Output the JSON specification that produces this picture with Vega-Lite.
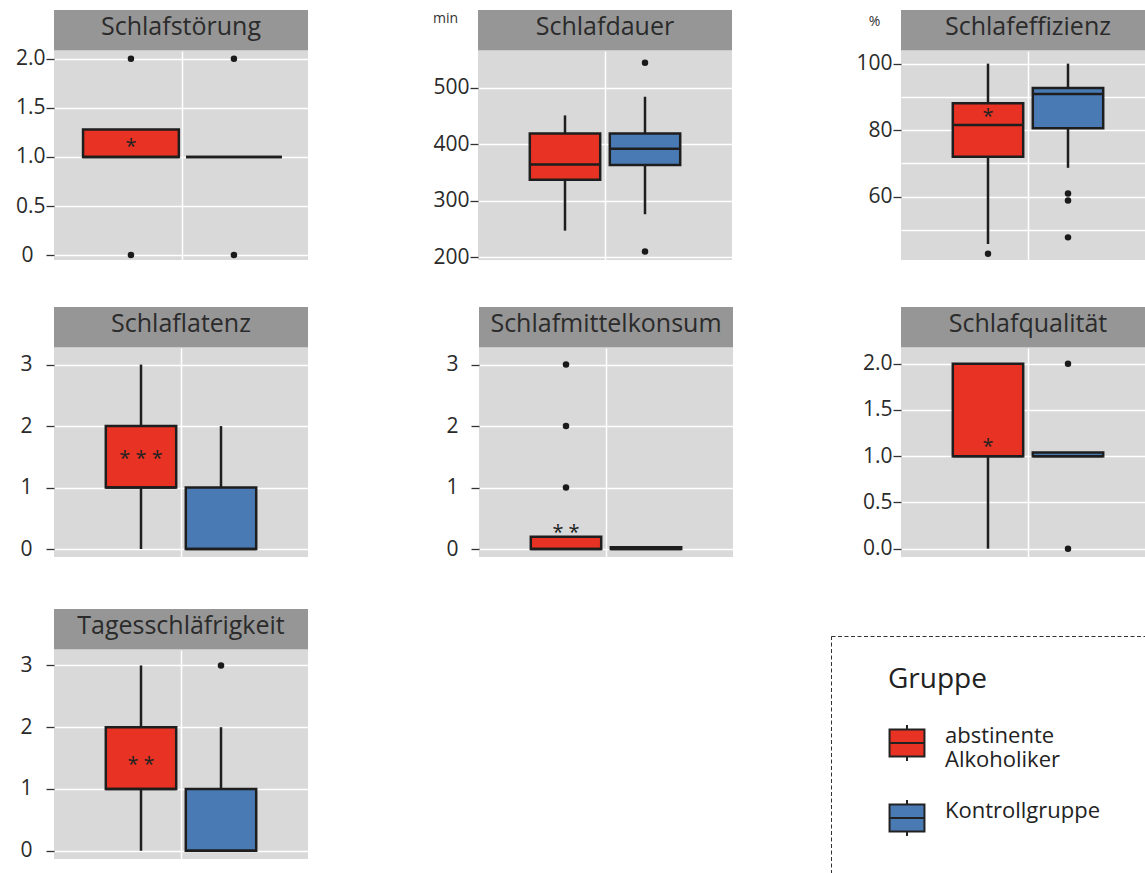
{
  "$schema": "https://vega.github.io/schema/vega-lite/v6.json",
  "padding": {"left": 15, "top": 10, "right": 0, "bottom": 0},
  "datasets": {
    "boxes": [
      {"panel": "Schlafstörung", "group": "abstinente Alkoholiker", "lo": 1, "q1": 1, "med": 1, "q3": 1.28, "hi": 1.28},
      {"panel": "Schlafstörung", "group": "Kontrollgruppe", "lo": 1, "q1": 1, "med": 1, "q3": 1, "hi": 1},
      {"panel": "Schlafdauer", "group": "abstinente Alkoholiker", "lo": 247, "q1": 337, "med": 364, "q3": 419, "hi": 451},
      {"panel": "Schlafdauer", "group": "Kontrollgruppe", "lo": 276, "q1": 363, "med": 392, "q3": 419, "hi": 484},
      {"panel": "Schlafeffizienz", "group": "abstinente Alkoholiker", "lo": 45.8, "q1": 72, "med": 81.6, "q3": 88.1, "hi": 100},
      {"panel": "Schlafeffizienz", "group": "Kontrollgruppe", "lo": 68.7, "q1": 80.6, "med": 90.9, "q3": 92.7, "hi": 100},
      {"panel": "Schlaflatenz", "group": "abstinente Alkoholiker", "lo": 0, "q1": 1, "med": 1, "q3": 2, "hi": 3},
      {"panel": "Schlaflatenz", "group": "Kontrollgruppe", "lo": 0, "q1": 0, "med": 0, "q3": 1, "hi": 2},
      {"panel": "Schlafmittelkonsum", "group": "abstinente Alkoholiker", "lo": 0, "q1": 0, "med": 0, "q3": 0.2, "hi": 0.2},
      {"panel": "Schlafmittelkonsum", "group": "Kontrollgruppe", "lo": 0, "q1": 0, "med": 0, "q3": 0.03, "hi": 0.03},
      {"panel": "Schlafqualität", "group": "abstinente Alkoholiker", "lo": 0, "q1": 1, "med": 1, "q3": 2, "hi": 2},
      {"panel": "Schlafqualität", "group": "Kontrollgruppe", "lo": 1, "q1": 1, "med": 1, "q3": 1.04, "hi": 1.04},
      {"panel": "Tagesschläfrigkeit", "group": "abstinente Alkoholiker", "lo": 0, "q1": 1, "med": 1, "q3": 2, "hi": 3},
      {"panel": "Tagesschläfrigkeit", "group": "Kontrollgruppe", "lo": 0, "q1": 0, "med": 0, "q3": 1, "hi": 2}
    ],
    "outliers": [
      {"panel": "Schlafstörung", "group": "abstinente Alkoholiker", "value": 2},
      {"panel": "Schlafstörung", "group": "abstinente Alkoholiker", "value": 0},
      {"panel": "Schlafstörung", "group": "Kontrollgruppe", "value": 2},
      {"panel": "Schlafstörung", "group": "Kontrollgruppe", "value": 0},
      {"panel": "Schlafdauer", "group": "Kontrollgruppe", "value": 544},
      {"panel": "Schlafdauer", "group": "Kontrollgruppe", "value": 210},
      {"panel": "Schlafeffizienz", "group": "abstinente Alkoholiker", "value": 42.9},
      {"panel": "Schlafeffizienz", "group": "Kontrollgruppe", "value": 61},
      {"panel": "Schlafeffizienz", "group": "Kontrollgruppe", "value": 58.9},
      {"panel": "Schlafeffizienz", "group": "Kontrollgruppe", "value": 47.8},
      {"panel": "Schlafmittelkonsum", "group": "abstinente Alkoholiker", "value": 1},
      {"panel": "Schlafmittelkonsum", "group": "abstinente Alkoholiker", "value": 2},
      {"panel": "Schlafmittelkonsum", "group": "abstinente Alkoholiker", "value": 3},
      {"panel": "Schlafqualität", "group": "Kontrollgruppe", "value": 2},
      {"panel": "Schlafqualität", "group": "Kontrollgruppe", "value": 0},
      {"panel": "Tagesschläfrigkeit", "group": "Kontrollgruppe", "value": 3}
    ],
    "stars": [
      {"panel": "Schlafstörung", "group": "abstinente Alkoholiker", "label": "*", "value": 1.13},
      {"panel": "Schlafeffizienz", "group": "abstinente Alkoholiker", "label": "*", "value": 84.9},
      {"panel": "Schlaflatenz", "group": "abstinente Alkoholiker", "label": "* * *", "value": 1.52},
      {"panel": "Schlafmittelkonsum", "group": "abstinente Alkoholiker", "label": "* *", "value": 0.31},
      {"panel": "Schlafqualität", "group": "abstinente Alkoholiker", "label": "*", "value": 1.13},
      {"panel": "Tagesschläfrigkeit", "group": "abstinente Alkoholiker", "label": "* *", "value": 1.43}
    ]
  },
  "spacing": 39,
  "vconcat": [
    {
      "spacing": 124,
      "hconcat": [
        {
          "bounds": "flush", "spacing": 0,
          "vconcat": [
            {"width": 254, "height": 40.5, "view": {"fill": "#969696", "stroke": null}, "data": {"values": [{"name": "Schlafstörung"}]}, "mark": {"type": "text", "fontSize": 25, "color": "#2b2b2b", "dy": -3.5}, "encoding": {"text": {"field": "name", "type": "nominal"}}},
            {
              "width": 254, "height": 209, "view": {"fill": "#d9d9d9", "stroke": null},
              "encoding": {"x": {"field": "group", "type": "nominal", "scale": {"domain": ["abstinente Alkoholiker", "Kontrollgruppe"], "paddingInner": 0, "paddingOuter": 0.233, "align": 0.53}, "axis": {"values": ["Kontrollgruppe"], "bandPosition": 0, "grid": true, "labels": false, "ticks": false, "domain": false, "title": null}}},
              "layer": [
                {"data": {"name": "boxes"}, "transform": [{"filter": "datum.panel === 'Schlafstörung'"}], "layer": [
                  {"mark": {"type": "rule", "color": "#1e1e1e", "strokeWidth": 2.5}, "encoding": {"y": {"field": "lo", "type": "quantitative", "title": null, "scale": {"domain": [-0.05, 2.08], "nice": false, "zero": false}, "axis": {"values": [0, 0.25, 0.5, 0.75, 1, 1.25, 1.5, 1.75, 2], "labelExpr": "abs(datum.value*2 - round(datum.value*2)) < 0.001 ? (datum.value == 0 ? '0' : format(datum.value, '.1f')) : ''", "tickOpacity": {"condition": {"test": "abs(datum.value*2 - round(datum.value*2)) < 0.001", "value": 1}, "value": 0}, "labelPadding": {"condition": {"test": "datum.value == 0", "value": 13}, "value": 1}}}, "y2": {"field": "hi"}}},
                  {"mark": {"type": "bar", "stroke": "#1e1e1e", "strokeWidth": 2.5, "width": {"band": 0.93}}, "encoding": {"y": {"field": "q1", "type": "quantitative", "title": null}, "y2": {"field": "q3"}, "color": {"field": "group", "type": "nominal", "title": "Gruppe", "scale": {"domain": ["abstinente Alkoholiker", "Kontrollgruppe"], "range": ["#e83223", "#4a7ab4"]}, "legend": {"orient": "none", "legendX": 834, "legendY": 656, "titleFontSize": 28, "titleFontWeight": "normal", "titleColor": "#222", "titlePadding": 30, "labelFontSize": 22, "labelColor": "#222", "labelOffset": 19, "labelLimit": 300, "labelBaseline": "alphabetic", "labelExpr": "datum.label == 'abstinente Alkoholiker' ? ['abstinente', 'Alkoholiker'] : datum.label", "symbolType": "M-0.97,-0.75H0.97V0.75H-0.97Z M-0.97,0H0.97 M0,-0.75V-1 M0,0.75V1", "symbolSize": 1296, "symbolStrokeWidth": 2, "symbolStrokeColor": "#222", "rowPadding": 25}}}},
                  {"mark": {"type": "bar", "fill": "transparent", "stroke": "#1e1e1e", "strokeWidth": 2.5, "width": {"band": 0.93}}, "encoding": {"y": {"field": "med", "type": "quantitative", "title": null}, "y2": {"field": "med"}}}
                ]},
                {"data": {"name": "outliers"}, "transform": [{"filter": "datum.panel === 'Schlafstörung'"}], "mark": {"type": "point", "filled": true, "size": 42, "color": "#1a1a1a", "opacity": 1}, "encoding": {"y": {"field": "value", "type": "quantitative", "title": null}}},
                {"data": {"name": "stars"}, "transform": [{"filter": "datum.panel === 'Schlafstörung'"}], "mark": {"type": "text", "fontSize": 20, "baseline": "alphabetic", "dy": 9, "color": "#222"}, "encoding": {"y": {"field": "value", "type": "quantitative", "title": null}, "text": {"field": "label", "type": "nominal"}}}
              ]
            }
          ]
        },
        {
          "spacing": 123,
          "hconcat": [
            {
              "bounds": "flush", "spacing": 0,
              "vconcat": [
                {"width": 254, "height": 40.5, "view": {"fill": "#969696", "stroke": null}, "data": {"values": [{"name": "Schlafdauer"}]}, "mark": {"type": "text", "fontSize": 25, "color": "#2b2b2b", "dy": -3.5}, "encoding": {"text": {"field": "name", "type": "nominal"}}},
                {
                  "width": 254, "height": 209, "view": {"fill": "#d9d9d9", "stroke": null},
                  "encoding": {"x": {"field": "group", "type": "nominal", "scale": {"domain": ["abstinente Alkoholiker", "Kontrollgruppe"], "paddingInner": 0, "paddingOuter": 0.5875}, "axis": {"values": ["Kontrollgruppe"], "bandPosition": 0, "grid": true, "labels": false, "ticks": false, "domain": false, "title": null}}},
                  "layer": [
                    {"data": {"name": "boxes"}, "transform": [{"filter": "datum.panel === 'Schlafdauer'"}], "layer": [
                      {"mark": {"type": "rule", "color": "#1e1e1e", "strokeWidth": 2.5}, "encoding": {"y": {"field": "lo", "type": "quantitative", "title": "min", "scale": {"domain": [195, 565], "nice": false, "zero": false}, "axis": {"values": [200, 250, 300, 350, 400, 450, 500, 550], "labelExpr": "datum.value % 100 == 0 ? format(datum.value, 'd') : ''", "tickOpacity": {"condition": {"test": "datum.value % 100 == 0", "value": 1}, "value": 0}, "titleX": -33, "titleY": -32.5}}, "y2": {"field": "hi"}}},
                      {"mark": {"type": "bar", "stroke": "#1e1e1e", "strokeWidth": 2.5, "width": {"band": 0.88}}, "encoding": {"y": {"field": "q1", "type": "quantitative", "title": "min"}, "y2": {"field": "q3"}, "color": {"field": "group", "type": "nominal", "title": "Gruppe", "scale": {"domain": ["abstinente Alkoholiker", "Kontrollgruppe"], "range": ["#e83223", "#4a7ab4"]}, "legend": {"orient": "none", "legendX": 834, "legendY": 656, "titleFontSize": 28, "titleFontWeight": "normal", "titleColor": "#222", "titlePadding": 30, "labelFontSize": 22, "labelColor": "#222", "labelOffset": 19, "labelLimit": 300, "labelBaseline": "alphabetic", "labelExpr": "datum.label == 'abstinente Alkoholiker' ? ['abstinente', 'Alkoholiker'] : datum.label", "symbolType": "M-0.97,-0.75H0.97V0.75H-0.97Z M-0.97,0H0.97 M0,-0.75V-1 M0,0.75V1", "symbolSize": 1296, "symbolStrokeWidth": 2, "symbolStrokeColor": "#222", "rowPadding": 25}}}},
                      {"mark": {"type": "bar", "fill": "transparent", "stroke": "#1e1e1e", "strokeWidth": 2.5, "width": {"band": 0.88}}, "encoding": {"y": {"field": "med", "type": "quantitative", "title": "min"}, "y2": {"field": "med"}}}
                    ]},
                    {"data": {"name": "outliers"}, "transform": [{"filter": "datum.panel === 'Schlafdauer'"}], "mark": {"type": "point", "filled": true, "size": 42, "color": "#1a1a1a", "opacity": 1}, "encoding": {"y": {"field": "value", "type": "quantitative", "title": "min"}}}
                  ]
                }
              ]
            },
            {
              "bounds": "flush", "spacing": 0,
              "vconcat": [
                {"width": 254, "height": 40.5, "view": {"fill": "#969696", "stroke": null}, "data": {"values": [{"name": "Schlafeffizienz"}]}, "mark": {"type": "text", "fontSize": 25, "color": "#2b2b2b", "dy": -3.5}, "encoding": {"text": {"field": "name", "type": "nominal"}}},
                {
                  "width": 254, "height": 209, "view": {"fill": "#d9d9d9", "stroke": null},
                  "encoding": {"x": {"field": "group", "type": "nominal", "scale": {"domain": ["abstinente Alkoholiker", "Kontrollgruppe"], "paddingInner": 0, "paddingOuter": 0.5875}, "axis": {"values": ["Kontrollgruppe"], "bandPosition": 0, "grid": true, "labels": false, "ticks": false, "domain": false, "title": null}}},
                  "layer": [
                    {"data": {"name": "boxes"}, "transform": [{"filter": "datum.panel === 'Schlafeffizienz'"}], "layer": [
                      {"mark": {"type": "rule", "color": "#1e1e1e", "strokeWidth": 2.5}, "encoding": {"y": {"field": "lo", "type": "quantitative", "title": "%", "scale": {"domain": [41, 103.8], "nice": false, "zero": false}, "axis": {"values": [50, 60, 70, 80, 90, 100], "labelExpr": "datum.value % 20 == 0 ? format(datum.value, 'd') : ''", "tickOpacity": {"condition": {"test": "datum.value % 20 == 0", "value": 1}, "value": 0}, "titleX": -27, "titleY": -30}}, "y2": {"field": "hi"}}},
                      {"mark": {"type": "bar", "stroke": "#1e1e1e", "strokeWidth": 2.5, "width": {"band": 0.88}}, "encoding": {"y": {"field": "q1", "type": "quantitative", "title": "%"}, "y2": {"field": "q3"}, "color": {"field": "group", "type": "nominal", "title": "Gruppe", "scale": {"domain": ["abstinente Alkoholiker", "Kontrollgruppe"], "range": ["#e83223", "#4a7ab4"]}, "legend": {"orient": "none", "legendX": 834, "legendY": 656, "titleFontSize": 28, "titleFontWeight": "normal", "titleColor": "#222", "titlePadding": 30, "labelFontSize": 22, "labelColor": "#222", "labelOffset": 19, "labelLimit": 300, "labelBaseline": "alphabetic", "labelExpr": "datum.label == 'abstinente Alkoholiker' ? ['abstinente', 'Alkoholiker'] : datum.label", "symbolType": "M-0.97,-0.75H0.97V0.75H-0.97Z M-0.97,0H0.97 M0,-0.75V-1 M0,0.75V1", "symbolSize": 1296, "symbolStrokeWidth": 2, "symbolStrokeColor": "#222", "rowPadding": 25}}}},
                      {"mark": {"type": "bar", "fill": "transparent", "stroke": "#1e1e1e", "strokeWidth": 2.5, "width": {"band": 0.88}}, "encoding": {"y": {"field": "med", "type": "quantitative", "title": "%"}, "y2": {"field": "med"}}}
                    ]},
                    {"data": {"name": "outliers"}, "transform": [{"filter": "datum.panel === 'Schlafeffizienz'"}], "mark": {"type": "point", "filled": true, "size": 42, "color": "#1a1a1a", "opacity": 1}, "encoding": {"y": {"field": "value", "type": "quantitative", "title": "%"}}},
                    {"data": {"name": "stars"}, "transform": [{"filter": "datum.panel === 'Schlafeffizienz'"}], "mark": {"type": "text", "fontSize": 20, "baseline": "alphabetic", "dy": 9, "color": "#222"}, "encoding": {"y": {"field": "value", "type": "quantitative", "title": "%"}, "text": {"field": "label", "type": "nominal"}}}
                  ]
                }
              ]
            }
          ]
        }
      ]
    },
    {
      "spacing": 46,
      "vconcat": [
        {
          "spacing": 137,
          "hconcat": [
            {
              "bounds": "flush", "spacing": 0,
              "vconcat": [
                {"width": 254, "height": 40.5, "view": {"fill": "#969696", "stroke": null}, "data": {"values": [{"name": "Schlaflatenz"}]}, "mark": {"type": "text", "fontSize": 25, "color": "#2b2b2b", "dy": -3}, "encoding": {"text": {"field": "name", "type": "nominal"}}},
                {
                  "width": 254, "height": 209, "view": {"fill": "#d9d9d9", "stroke": null},
                  "encoding": {"x": {"field": "group", "type": "nominal", "scale": {"domain": ["abstinente Alkoholiker", "Kontrollgruppe"], "paddingInner": 0, "paddingOuter": 0.5875}, "axis": {"values": ["Kontrollgruppe"], "bandPosition": 0, "grid": true, "labels": false, "ticks": false, "domain": false, "title": null}}},
                  "layer": [
                    {"data": {"name": "boxes"}, "transform": [{"filter": "datum.panel === 'Schlaflatenz'"}], "layer": [
                      {"mark": {"type": "rule", "color": "#1e1e1e", "strokeWidth": 2.5}, "encoding": {"y": {"field": "lo", "type": "quantitative", "title": null, "scale": {"domain": [-0.13, 3.27], "nice": false, "zero": false}, "axis": {"values": [0, 0.5, 1, 1.5, 2, 2.5, 3], "labelExpr": "datum.value % 1 == 0 ? format(datum.value, 'd') : ''", "tickOpacity": {"condition": {"test": "datum.value % 1 == 0", "value": 1}, "value": 0}, "labelPadding": 14}}, "y2": {"field": "hi"}}},
                      {"mark": {"type": "bar", "stroke": "#1e1e1e", "strokeWidth": 2.5, "width": {"band": 0.88}}, "encoding": {"y": {"field": "q1", "type": "quantitative", "title": null}, "y2": {"field": "q3"}, "color": {"field": "group", "type": "nominal", "title": "Gruppe", "scale": {"domain": ["abstinente Alkoholiker", "Kontrollgruppe"], "range": ["#e83223", "#4a7ab4"]}, "legend": {"orient": "none", "legendX": 834, "legendY": 656, "titleFontSize": 28, "titleFontWeight": "normal", "titleColor": "#222", "titlePadding": 30, "labelFontSize": 22, "labelColor": "#222", "labelOffset": 19, "labelLimit": 300, "labelBaseline": "alphabetic", "labelExpr": "datum.label == 'abstinente Alkoholiker' ? ['abstinente', 'Alkoholiker'] : datum.label", "symbolType": "M-0.97,-0.75H0.97V0.75H-0.97Z M-0.97,0H0.97 M0,-0.75V-1 M0,0.75V1", "symbolSize": 1296, "symbolStrokeWidth": 2, "symbolStrokeColor": "#222", "rowPadding": 25}}}},
                      {"mark": {"type": "bar", "fill": "transparent", "stroke": "#1e1e1e", "strokeWidth": 2.5, "width": {"band": 0.88}}, "encoding": {"y": {"field": "med", "type": "quantitative", "title": null}, "y2": {"field": "med"}}}
                    ]},
                    {"data": {"name": "stars"}, "transform": [{"filter": "datum.panel === 'Schlaflatenz'"}], "mark": {"type": "text", "fontSize": 20, "baseline": "alphabetic", "dy": 9, "color": "#222"}, "encoding": {"y": {"field": "value", "type": "quantitative", "title": null}, "text": {"field": "label", "type": "nominal"}}}
                  ]
                }
              ]
            },
            {
              "spacing": 129,
              "hconcat": [
                {
                  "bounds": "flush", "spacing": 0,
                  "vconcat": [
                    {"width": 254, "height": 40.5, "view": {"fill": "#969696", "stroke": null}, "data": {"values": [{"name": "Schlafmittelkonsum"}]}, "mark": {"type": "text", "fontSize": 25, "color": "#2b2b2b", "dy": -3}, "encoding": {"text": {"field": "name", "type": "nominal"}}},
                    {
                      "width": 254, "height": 209, "view": {"fill": "#d9d9d9", "stroke": null},
                      "encoding": {"x": {"field": "group", "type": "nominal", "scale": {"domain": ["abstinente Alkoholiker", "Kontrollgruppe"], "paddingInner": 0, "paddingOuter": 0.5875}, "axis": {"values": ["Kontrollgruppe"], "bandPosition": 0, "grid": true, "labels": false, "ticks": false, "domain": false, "title": null}}},
                      "layer": [
                        {"data": {"name": "boxes"}, "transform": [{"filter": "datum.panel === 'Schlafmittelkonsum'"}], "layer": [
                          {"mark": {"type": "rule", "color": "#1e1e1e", "strokeWidth": 2.5}, "encoding": {"y": {"field": "lo", "type": "quantitative", "title": null, "scale": {"domain": [-0.13, 3.27], "nice": false, "zero": false}, "axis": {"values": [0, 0.5, 1, 1.5, 2, 2.5, 3], "labelExpr": "datum.value % 1 == 0 ? format(datum.value, 'd') : ''", "tickOpacity": {"condition": {"test": "datum.value % 1 == 0", "value": 1}, "value": 0}, "labelPadding": 13}}, "y2": {"field": "hi"}}},
                          {"mark": {"type": "bar", "stroke": "#1e1e1e", "strokeWidth": 2.5, "width": {"band": 0.88}}, "encoding": {"y": {"field": "q1", "type": "quantitative", "title": null}, "y2": {"field": "q3"}, "color": {"field": "group", "type": "nominal", "title": "Gruppe", "scale": {"domain": ["abstinente Alkoholiker", "Kontrollgruppe"], "range": ["#e83223", "#4a7ab4"]}, "legend": {"orient": "none", "legendX": 834, "legendY": 656, "titleFontSize": 28, "titleFontWeight": "normal", "titleColor": "#222", "titlePadding": 30, "labelFontSize": 22, "labelColor": "#222", "labelOffset": 19, "labelLimit": 300, "labelBaseline": "alphabetic", "labelExpr": "datum.label == 'abstinente Alkoholiker' ? ['abstinente', 'Alkoholiker'] : datum.label", "symbolType": "M-0.97,-0.75H0.97V0.75H-0.97Z M-0.97,0H0.97 M0,-0.75V-1 M0,0.75V1", "symbolSize": 1296, "symbolStrokeWidth": 2, "symbolStrokeColor": "#222", "rowPadding": 25}}}},
                          {"mark": {"type": "bar", "fill": "transparent", "stroke": "#1e1e1e", "strokeWidth": 2.5, "width": {"band": 0.88}}, "encoding": {"y": {"field": "med", "type": "quantitative", "title": null}, "y2": {"field": "med"}}}
                        ]},
                        {"data": {"name": "outliers"}, "transform": [{"filter": "datum.panel === 'Schlafmittelkonsum'"}], "mark": {"type": "point", "filled": true, "size": 42, "color": "#1a1a1a", "opacity": 1}, "encoding": {"y": {"field": "value", "type": "quantitative", "title": null}}},
                        {"data": {"name": "stars"}, "transform": [{"filter": "datum.panel === 'Schlafmittelkonsum'"}], "mark": {"type": "text", "fontSize": 20, "baseline": "alphabetic", "dy": 9, "color": "#222"}, "encoding": {"y": {"field": "value", "type": "quantitative", "title": null}, "text": {"field": "label", "type": "nominal"}}}
                      ]
                    }
                  ]
                },
                {
                  "bounds": "flush", "spacing": 0,
                  "vconcat": [
                    {"width": 254, "height": 40.5, "view": {"fill": "#969696", "stroke": null}, "data": {"values": [{"name": "Schlafqualität"}]}, "mark": {"type": "text", "fontSize": 25, "color": "#2b2b2b", "dy": -3}, "encoding": {"text": {"field": "name", "type": "nominal"}}},
                    {
                      "width": 254, "height": 209, "view": {"fill": "#d9d9d9", "stroke": null},
                      "encoding": {"x": {"field": "group", "type": "nominal", "scale": {"domain": ["abstinente Alkoholiker", "Kontrollgruppe"], "paddingInner": 0, "paddingOuter": 0.5875}, "axis": {"values": ["Kontrollgruppe"], "bandPosition": 0, "grid": true, "labels": false, "ticks": false, "domain": false, "title": null}}},
                      "layer": [
                        {"data": {"name": "boxes"}, "transform": [{"filter": "datum.panel === 'Schlafqualität'"}], "layer": [
                          {"mark": {"type": "rule", "color": "#1e1e1e", "strokeWidth": 2.5}, "encoding": {"y": {"field": "lo", "type": "quantitative", "title": null, "scale": {"domain": [-0.09, 2.17], "nice": false, "zero": false}, "axis": {"values": [0, 0.25, 0.5, 0.75, 1, 1.25, 1.5, 1.75, 2], "labelExpr": "abs(datum.value*2 - round(datum.value*2)) < 0.001 ? format(datum.value, '.1f') : ''", "tickOpacity": {"condition": {"test": "abs(datum.value*2 - round(datum.value*2)) < 0.001", "value": 1}, "value": 0}}}, "y2": {"field": "hi"}}},
                          {"mark": {"type": "bar", "stroke": "#1e1e1e", "strokeWidth": 2.5, "width": {"band": 0.88}}, "encoding": {"y": {"field": "q1", "type": "quantitative", "title": null}, "y2": {"field": "q3"}, "color": {"field": "group", "type": "nominal", "title": "Gruppe", "scale": {"domain": ["abstinente Alkoholiker", "Kontrollgruppe"], "range": ["#e83223", "#4a7ab4"]}, "legend": {"orient": "none", "legendX": 834, "legendY": 656, "titleFontSize": 28, "titleFontWeight": "normal", "titleColor": "#222", "titlePadding": 30, "labelFontSize": 22, "labelColor": "#222", "labelOffset": 19, "labelLimit": 300, "labelBaseline": "alphabetic", "labelExpr": "datum.label == 'abstinente Alkoholiker' ? ['abstinente', 'Alkoholiker'] : datum.label", "symbolType": "M-0.97,-0.75H0.97V0.75H-0.97Z M-0.97,0H0.97 M0,-0.75V-1 M0,0.75V1", "symbolSize": 1296, "symbolStrokeWidth": 2, "symbolStrokeColor": "#222", "rowPadding": 25}}}},
                          {"mark": {"type": "bar", "fill": "transparent", "stroke": "#1e1e1e", "strokeWidth": 2.5, "width": {"band": 0.88}}, "encoding": {"y": {"field": "med", "type": "quantitative", "title": null}, "y2": {"field": "med"}}}
                        ]},
                        {"data": {"name": "outliers"}, "transform": [{"filter": "datum.panel === 'Schlafqualität'"}], "mark": {"type": "point", "filled": true, "size": 42, "color": "#1a1a1a", "opacity": 1}, "encoding": {"y": {"field": "value", "type": "quantitative", "title": null}}},
                        {"data": {"name": "stars"}, "transform": [{"filter": "datum.panel === 'Schlafqualität'"}], "mark": {"type": "text", "fontSize": 20, "baseline": "alphabetic", "dy": 9, "color": "#222"}, "encoding": {"y": {"field": "value", "type": "quantitative", "title": null}, "text": {"field": "label", "type": "nominal"}}}
                      ]
                    }
                  ]
                }
              ]
            }
          ]
        },
        {
          "spacing": 522,
          "hconcat": [
            {
              "bounds": "flush", "spacing": 0,
              "vconcat": [
                {"width": 254, "height": 40.5, "view": {"fill": "#969696", "stroke": null}, "data": {"values": [{"name": "Tagesschläfrigkeit"}]}, "mark": {"type": "text", "fontSize": 25, "color": "#2b2b2b", "dy": -3.5}, "encoding": {"text": {"field": "name", "type": "nominal"}}},
                {
                  "width": 254, "height": 209, "view": {"fill": "#d9d9d9", "stroke": null},
                  "encoding": {"x": {"field": "group", "type": "nominal", "scale": {"domain": ["abstinente Alkoholiker", "Kontrollgruppe"], "paddingInner": 0, "paddingOuter": 0.5875}, "axis": {"values": ["Kontrollgruppe"], "bandPosition": 0, "grid": true, "labels": false, "ticks": false, "domain": false, "title": null}}},
                  "layer": [
                    {"data": {"name": "boxes"}, "transform": [{"filter": "datum.panel === 'Tagesschläfrigkeit'"}], "layer": [
                      {"mark": {"type": "rule", "color": "#1e1e1e", "strokeWidth": 2.5}, "encoding": {"y": {"field": "lo", "type": "quantitative", "title": null, "scale": {"domain": [-0.134, 3.25], "nice": false, "zero": false}, "axis": {"values": [0, 0.5, 1, 1.5, 2, 2.5, 3], "labelExpr": "datum.value % 1 == 0 ? format(datum.value, 'd') : ''", "tickOpacity": {"condition": {"test": "datum.value % 1 == 0", "value": 1}, "value": 0}, "labelPadding": 14}}, "y2": {"field": "hi"}}},
                      {"mark": {"type": "bar", "stroke": "#1e1e1e", "strokeWidth": 2.5, "width": {"band": 0.88}}, "encoding": {"y": {"field": "q1", "type": "quantitative", "title": null}, "y2": {"field": "q3"}, "color": {"field": "group", "type": "nominal", "title": "Gruppe", "scale": {"domain": ["abstinente Alkoholiker", "Kontrollgruppe"], "range": ["#e83223", "#4a7ab4"]}, "legend": {"orient": "none", "legendX": 834, "legendY": 656, "titleFontSize": 28, "titleFontWeight": "normal", "titleColor": "#222", "titlePadding": 30, "labelFontSize": 22, "labelColor": "#222", "labelOffset": 19, "labelLimit": 300, "labelBaseline": "alphabetic", "labelExpr": "datum.label == 'abstinente Alkoholiker' ? ['abstinente', 'Alkoholiker'] : datum.label", "symbolType": "M-0.97,-0.75H0.97V0.75H-0.97Z M-0.97,0H0.97 M0,-0.75V-1 M0,0.75V1", "symbolSize": 1296, "symbolStrokeWidth": 2, "symbolStrokeColor": "#222", "rowPadding": 25}}}},
                      {"mark": {"type": "bar", "fill": "transparent", "stroke": "#1e1e1e", "strokeWidth": 2.5, "width": {"band": 0.88}}, "encoding": {"y": {"field": "med", "type": "quantitative", "title": null}, "y2": {"field": "med"}}}
                    ]},
                    {"data": {"name": "outliers"}, "transform": [{"filter": "datum.panel === 'Tagesschläfrigkeit'"}], "mark": {"type": "point", "filled": true, "size": 42, "color": "#1a1a1a", "opacity": 1}, "encoding": {"y": {"field": "value", "type": "quantitative", "title": null}}},
                    {"data": {"name": "stars"}, "transform": [{"filter": "datum.panel === 'Tagesschläfrigkeit'"}], "mark": {"type": "text", "fontSize": 20, "baseline": "alphabetic", "dy": 9, "color": "#222"}, "encoding": {"y": {"field": "value", "type": "quantitative", "title": null}, "text": {"field": "label", "type": "nominal"}}}
                  ]
                }
              ]
            },
            {
              "bounds": "flush", "spacing": 26,
              "vconcat": [
                {"width": 330, "height": 1, "view": {"fill": "transparent", "stroke": null}, "data": {"values": [{"k": 1}]}, "mark": {"type": "point", "opacity": 0}},
                {"width": 330, "height": 260, "view": {"fill": "white", "stroke": "#333333", "strokeDash": [4, 2.5], "strokeWidth": 1}, "data": {"values": [{"k": 1}]}, "mark": {"type": "point", "opacity": 0}}
              ]
            }
          ]
        }
      ]
    }
  ],
  "config": {
    "font": "Open Sans",
    "view": {"stroke": null},
    "style": {"guide-label": {"lineHeight": 24}},
    "axisY": {"domain": false, "grid": true, "tickColor": "#333333", "tickSize": 8, "tickWidth": 1.3, "labelFontSize": 21, "labelColor": "#2a2a2a", "labelPadding": 1, "gridColor": "#ffffff", "gridWidth": 1.5, "labelOverlap": false, "titleFontSize": 14, "titleFontWeight": "normal", "titleColor": "#333333", "titleAngle": 0, "titleAlign": "center", "titleBaseline": "middle"},
    "axisX": {"gridColor": "#ffffff", "gridWidth": 1.5}
  }
}
